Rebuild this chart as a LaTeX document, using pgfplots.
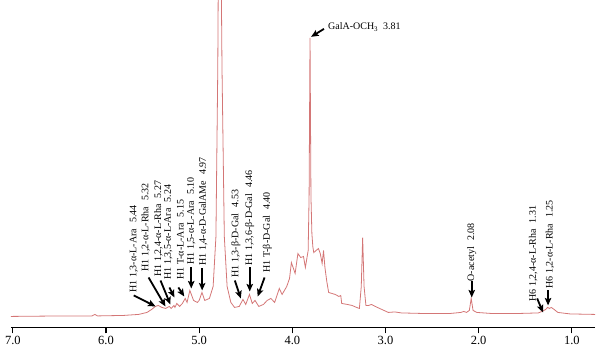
\documentclass[border=0pt]{standalone}
\usepackage{fontspec}
\setmainfont{Liberation Serif}
\usepackage{pgfplots}
\pgfplotsset{compat=1.18}
\usetikzlibrary{arrows.meta}
\definecolor{spec}{RGB}{212,118,118}
\begin{document}
\begin{tikzpicture}
\begin{axis}[
  scale only axis, width=585pt, height=327pt,
  x dir=reverse, xmin=0.75, xmax=7.02, ymin=-11, ymax=316,
  axis y line=none, axis x line*=bottom,
  x axis line style={line width=1.6pt,-},
  xtick={1,2,3,4,5,6,7},
  tick align=outside, major tick length=6pt,
  every tick/.style={black,line width=1.3pt},
  xticklabel style={font=\fontsize{12.5}{14}\selectfont, yshift=1pt,
    /pgf/number format/fixed, /pgf/number format/fixed zerofill,
    /pgf/number format/precision=1},
  /pgf/number format/assume math mode=true,
  clip mode=individual,
  every node/.style={font=\fontsize{9}{10}\selectfont},
]
\addplot[spec, line width=0.8pt, sharp plot] coordinates {
(7.02,0) (6.45,0.5) (6.15,0.5) (6.12,2) (6.09,0.5) (5.81,1) (5.65,2)
(5.56,4) (5.51,7) (5.47,10) (5.44,11) (5.40,9) (5.36,8) (5.32,10)
(5.30,8) (5.27,11) (5.26,9) (5.24,13) (5.21,10) (5.18,13) (5.15,18)
(5.13,14) (5.10,26) (5.06,16) (5.02,14) (5.00,16) (4.97,24) (4.94,16)
(4.89,18) (4.85,30) (4.82,80) (4.80,250) (4.79,420) (4.77,420) (4.755,250)
(4.73,80) (4.70,30) (4.66,14) (4.62,9) (4.57,10) (4.53,17) (4.50,12)
(4.46,22) (4.43,13) (4.40,16) (4.36,10) (4.31,12) (4.27,16) (4.23,18)
(4.19,14) (4.14,28) (4.11,22) (4.06,30) (4.03,38) (4.01,54) (3.97,43)
(3.94,63) (3.91,59) (3.88,60) (3.86,49) (3.83,66) (3.82,120) (3.81,279)
(3.80,120) (3.79,83) (3.78,70) (3.77,64) (3.72,68) (3.70,63) (3.68,53)
(3.665,66) (3.65,49) (3.63,35) (3.61,24) (3.54,22) (3.50,20) (3.48,21)
(3.47,13) (3.41,12) (3.36,11) (3.31,9) (3.28,8) (3.26,30) (3.245,79)
(3.23,30) (3.21,11) (3.18,11) (3.15,12) (3.11,10) (3.04,7) (2.97,4)
(2.90,4.5) (2.83,3.5) (2.62,3) (2.30,3) (2.19,4) (2.16,5) (2.13,4)
(2.10,6) (2.08,18) (2.06,6) (2.02,4) (1.87,3) (1.55,3) (1.36,3.5)
(1.32,5) (1.28,7) (1.26,9) (1.24,8) (1.22,9) (1.19,7) (1.15,4)
(1.02,2.5) (0.75,2)
};
\tikzset{ann/.style={-{Stealth[length=7.5pt,width=6.5pt,inset=1.5pt]}, line width=1.8pt, black}}
\draw[ann] (axis cs:5.702,21) -- (axis cs:5.468,10);
\draw[ann] (axis cs:5.543,39) -- (axis cs:5.362,10);
\draw[ann] (axis cs:5.415,36) -- (axis cs:5.309,12);
\draw[ann] (axis cs:5.319,29) -- (axis cs:5.266,19);
\draw[ann] (axis cs:5.223,29) -- (axis cs:5.160,20);
\draw[ann] (axis cs:5.085,49) -- (axis cs:5.085,28);
\draw[ann] (axis cs:4.968,48) -- (axis cs:4.968,26);
\draw[ann] (axis cs:4.617,36) -- (axis cs:4.553,18);
\draw[ann] (axis cs:4.457,49) -- (axis cs:4.457,25);
\draw[ann] (axis cs:4.298,39) -- (axis cs:4.372,20);
\draw[ann] (axis cs:3.660,288) -- (axis cs:3.798,280);
\draw[ann] (axis cs:2.074,35) -- (axis cs:2.074,19);
\draw[ann] (axis cs:1.372,18) -- (axis cs:1.309,4);
\draw[ann] (axis cs:1.255,26) -- (axis cs:1.255,11);
\tikzset{lab/.style={rotate=90, anchor=west, inner sep=1pt}}
\node[lab] at (axis cs:5.702,23) {H1 1,3-α-L-Ara\hspace{0.6em}5.44};
\node[lab] at (axis cs:5.574,44) {H1 1,2-α-L-Rha\hspace{0.6em}5.32};
\node[lab] at (axis cs:5.436,39) {H1 1,2,4-α-L-Rha\hspace{0.6em}5.27};
\node[lab] at (axis cs:5.330,36) {H1 1,3,5-α-L-Ara\hspace{0.6em}5.24};
\node[lab] at (axis cs:5.202,36) {H1 T-α-L-Ara\hspace{0.6em}5.15};
\node[lab] at (axis cs:5.085,51) {H1 1,5-α-L-Ara\hspace{0.6em}5.10};
\node[lab] at (axis cs:4.957,50) {H1 1,4-α-D-GalAMe\hspace{0.6em}4.97};
\node[lab] at (axis cs:4.606,38) {H1 1,3-β-D-Gal\hspace{0.6em}4.53};
\node[lab] at (axis cs:4.457,50) {H1 1,3,6-β-D-Gal\hspace{0.6em}4.46};
\node[lab] at (axis cs:4.266,43) {H1 T-β-D-Gal\hspace{0.6em}4.40};
\node[lab] at (axis cs:2.074,34) {O-acetyl\hspace{0.6em}2.08};
\node[lab] at (axis cs:1.415,14) {H6 1,2,4-α-L-Rha\hspace{0.6em}1.31};
\node[lab] at (axis cs:1.234,27) {H6 1,2-α-L-Rha\hspace{0.6em}1.25};
\node[anchor=west, inner sep=1pt] at (axis cs:3.628,290) {GalA-OCH\textsubscript{3}\hspace{0.5em}3.81};
\path (rel axis cs:0,0) ++(-11pt,-30pt);
\path (rel axis cs:1,1);
\end{axis}
\end{tikzpicture}
\end{document}
